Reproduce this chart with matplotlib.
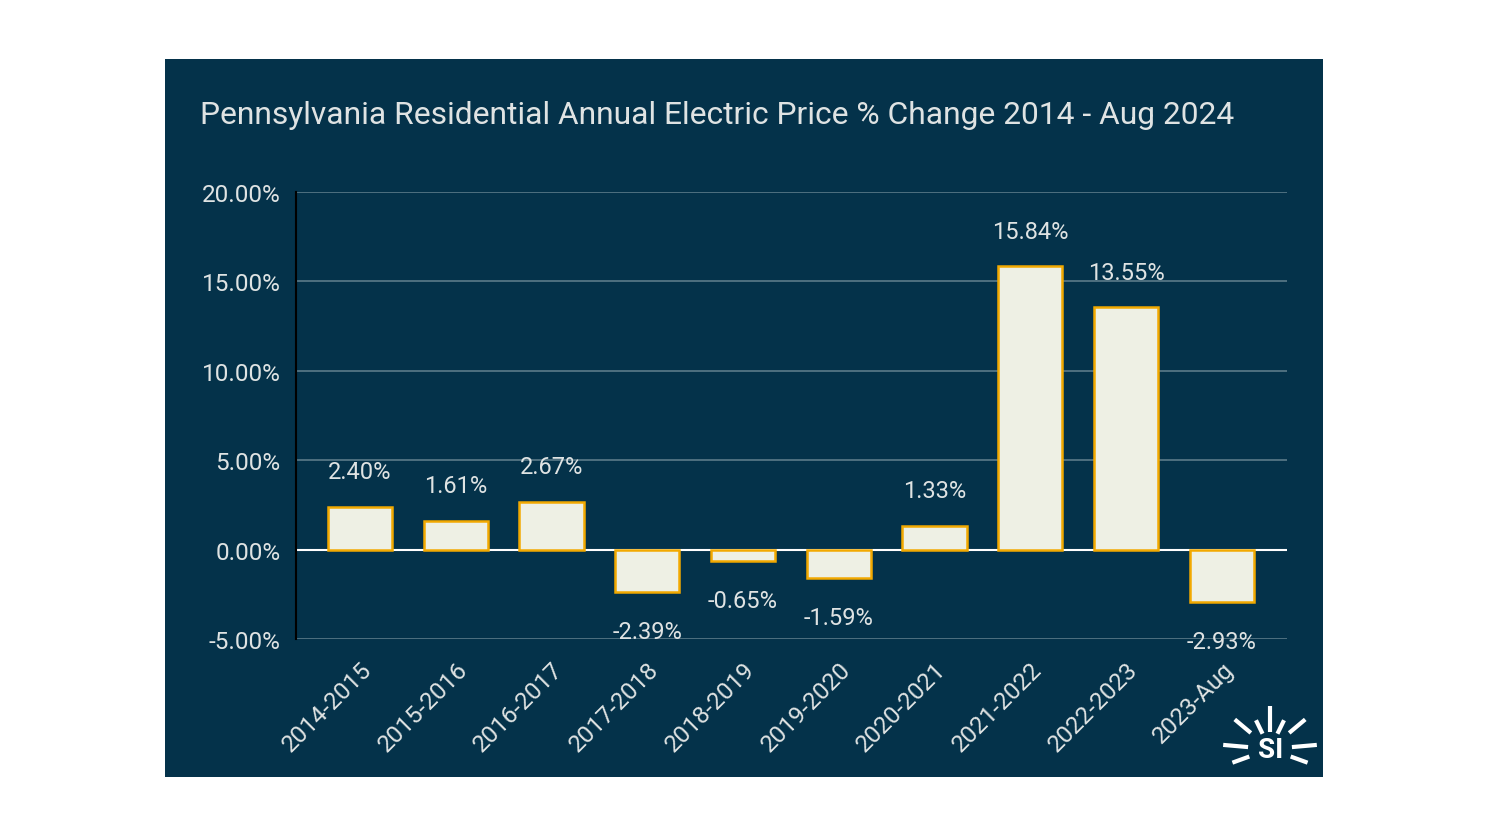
import numpy as np
import matplotlib.pyplot as plt
from matplotlib.patches import Rectangle

plt.rcParams['font.family'] = ['Roboto', 'DejaVu Sans']

# data
periods = ['2014-2015', '2015-2016', '2016-2017', '2017-2018', '2018-2019',
           '2019-2020', '2020-2021', '2021-2022', '2022-2023', '2023-Aug']
pct_change = [2.40, 1.61, 2.67, -2.39, -0.65, -1.59, 1.33, 15.84, 13.55, -2.93]
y_ticks = [-5, 0, 5, 10, 15, 20]

bg = '#04324a'
txt = '#dfe3e3'

fig = plt.figure(figsize=(14.88, 8.37), dpi=100, facecolor='white')
fig.patches.append(Rectangle((165/1488, 59/837), 1158/1488, 718/837,
                             transform=fig.transFigure, facecolor=bg,
                             edgecolor='none', zorder=-10))

ax = fig.add_axes([296/1488, 197/837, 991/1488, 447/837])
ax.set_facecolor(bg)
ax.patch.set_alpha(0)

x = np.arange(len(periods))
bars = ax.bar(x, pct_change, width=0.67, color='#eef0e4', edgecolor='#f2a900',
              linewidth=1.8, zorder=3)

for xi, v in zip(x, pct_change):
    if v >= 0:
        ax.text(xi, v + 1.95, f'{v:.2f}%', ha='center', va='center',
                color=txt, fontsize=17, zorder=4)
    else:
        ax.text(xi, v - 2.2, f'{v:.2f}%', ha='center', va='center',
                color=txt, fontsize=17, zorder=4)

ax.set_xlim(-0.668, 9.68)
ax.set_ylim(-5, 20)
ax.set_yticks(y_ticks)
ax.set_yticklabels([f'{t:.2f}%' for t in y_ticks], color=txt, fontsize=17.5)
ax.grid(axis='y', color='#5b7b89', linewidth=1.2, zorder=1)
ax.axhline(0, color='white', linewidth=1.5, zorder=2)
ax.set_xticks(x)
ax.set_xticklabels(periods, rotation=45, ha='right', rotation_mode='anchor',
                   color=txt, fontsize=17.5)
ax.tick_params(axis='both', length=0)
ax.tick_params(axis='y', pad=11)
ax.tick_params(axis='x', pad=13)
for s in ['top', 'right', 'bottom']:
    ax.spines[s].set_visible(False)
ax.spines['left'].set_color('black')
ax.spines['left'].set_linewidth(1.5)

fig.text(200/1488, 1 - 116/837,
         'Pennsylvania Residential Annual Electric Price % Change 2014 - Aug 2024',
         color=txt, fontsize=22.9, ha='left', va='center')

# small sun logo, bottom right (drawn in pixel units)
lax = fig.add_axes([1215/1488, 1 - 775/837, 110/1488, 75/837])
lax.set_xlim(1215, 1325)
lax.set_ylim(775, 700)
lax.axis('off')
cx, cy = 1270, 750
for ang, r1, r2 in [(90, 17, 43), (116, 17, 32), (64, 17, 32),
                    (140, 25, 46), (40, 25, 46), (175, 22, 47), (5, 22, 47),
                    (200, 22, 40), (-20, 22, 40)]:
    a = np.deg2rad(ang)
    lax.plot([cx + r1*np.cos(a), cx + r2*np.cos(a)],
             [cy - r1*np.sin(a), cy - r2*np.sin(a)],
             color='white', linewidth=3, solid_capstyle='butt')
lax.text(cx + 1, cy + 1, 'SI', color='white', fontsize=20, fontweight='bold',
         ha='center', va='center')

fig.savefig('out.png', dpi=100, facecolor='white')
